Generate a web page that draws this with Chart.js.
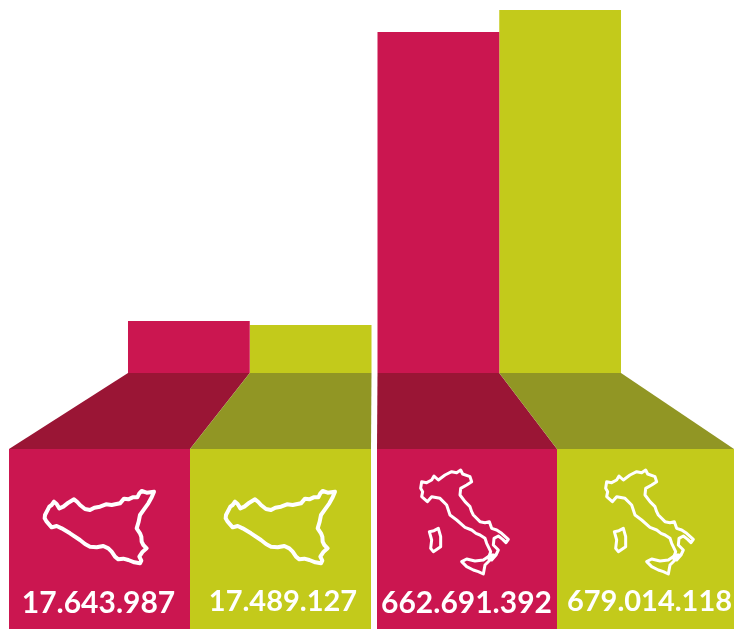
<!DOCTYPE html>
<html>
<head>
<meta charset="utf-8">
<style>
  html, body { margin: 0; padding: 0; background: #fff; }
  canvas { display: block; }
</style>
<script src="https://cdn.jsdelivr.net/npm/chart.js@4"></script>
</head>
<body>
<canvas id="myChart" width="734" height="629"></canvas>
<script>
// the bars in the picture are not to scale, so these are the drawn heights
var categories = ["Sicilia", "Italia"];
var pinkBars = [52, 341];
var limeBars = [48, 363];
var pinkTotals = ["17.643.987", "662.691.392"];
var limeTotals = ["17.489.127", "679.014.118"];

var PINK = "#CB1650";
var LIME = "#C3CA1B";
var DARK_PINK = "#9A1535";
var DARK_LIME = "#919624";

// outlines, in 3x pixels
var sicily = [[[462,155],[440,158],[425,153],[418,160],[412,172],[398,172],[385,178],[372,176],[360,190],[335,195],[318,193],[300,200],[283,203],[270,210],[255,207],[240,195],[232,186],[222,178],[205,188],[190,200],[178,205],[170,192],[162,185],[155,195],[148,200],[135,225],[134,235],[140,245],[155,262],[170,258],[185,265],[210,280],[240,300],[255,312],[270,320],[290,322],[310,318],[325,325],[335,335],[345,350],[355,358],[370,356],[385,360],[403,367],[420,370],[424,362],[418,350],[428,335],[440,325],[430,315],[425,305],[424,290],[420,280],[410,265],[416,245],[420,225],[432,208],[445,190],[455,172]]];
var italy = [
  [[155,95],[170,98],[185,90],[192,78],[205,90],[225,75],[245,65],[260,68],[272,60],[278,72],[300,80],[305,95],[290,105],[272,115],[270,135],[285,155],[300,170],[305,185],[310,195],[330,215],[345,218],[358,215],[365,235],[380,240],[395,250],[415,268],[408,278],[398,268],[385,258],[372,265],[370,285],[385,300],[378,315],[365,330],[355,325],[362,305],[350,280],[345,265],[330,255],[318,250],[305,240],[285,232],[260,210],[240,195],[230,165],[210,145],[185,140],[172,155],[155,140],[158,125],[152,115]],
  [[275,335],[290,327],[315,333],[340,330],[362,315],[372,315],[360,330],[345,345],[340,372],[325,365],[310,360],[290,350]],
  [[178,245],[192,242],[205,235],[212,260],[212,290],[190,305],[182,295],[185,270]]
];

// decorative block under each bar: left and right edge, x of the map, x of the total
var panels = [
  { left: 9, right: 190, top: 449, fill: PINK, shade: DARK_PINK, map: sicily, mapX: 0, mapY: 440, label: pinkTotals[0], textX: 98.5, textY: 613, size: 30, ds: 0, i: 0 },
  { left: 190, right: 371, top: 449, fill: LIME, shade: DARK_LIME, map: sicily, mapX: 181, mapY: 440, label: limeTotals[0], textX: 283, textY: 611, size: 29, ds: 1, i: 0 },
  { left: 377, right: 557, top: 449, fill: PINK, shade: DARK_PINK, map: italy, mapX: 370, mapY: 450, label: pinkTotals[1], textX: 466.5, textY: 613, size: 30, ds: 0, i: 1 },
  { left: 557, right: 734, top: 449, fill: LIME, shade: DARK_LIME, map: italy, mapX: 555, mapY: 450, label: limeTotals[1], textX: 649.5, textY: 611, size: 29, ds: 1, i: 1 }
];

var infographic = {
  id: "infographic",
  afterDatasetsDraw: function (chart) {
    var ctx = chart.ctx;
    var base = chart.scales.y.getPixelForValue(0);
    panels.forEach(function (p) {
      var bar = chart.getDatasetMeta(p.ds).data[p.i];
      var half = bar.width / 2;

      ctx.fillStyle = p.shade;
      ctx.beginPath();
      ctx.moveTo(bar.x - half, base);
      ctx.lineTo(bar.x + half, base);
      ctx.lineTo(p.right, p.top);
      ctx.lineTo(p.left, p.top);
      ctx.closePath();
      ctx.fill();

      ctx.fillStyle = p.fill;
      ctx.fillRect(p.left, p.top, p.right - p.left, 629 - p.top);

      ctx.save();
      ctx.translate(p.mapX, p.mapY);
      ctx.scale(1 / 3, 1 / 3);
      ctx.strokeStyle = "#fff";
      ctx.lineWidth = p.map === sicily ? 12 : 9;
      ctx.lineJoin = "round";
      p.map.forEach(function (shape) {
        ctx.beginPath();
        shape.forEach(function (pt, n) {
          if (n === 0) ctx.moveTo(pt[0], pt[1]);
          else ctx.lineTo(pt[0], pt[1]);
        });
        ctx.closePath();
        ctx.stroke();
      });
      ctx.restore();

      ctx.fillStyle = "#fff";
      ctx.font = "bold " + p.size + "px Lato";
      ctx.textAlign = "center";
      ctx.textBaseline = "alphabetic";
      ctx.fillText(p.label, p.textX, p.textY);
    });
  }
};

var ctx = document.getElementById("myChart").getContext("2d");
var myChart = new Chart(ctx, {
  type: "bar",
  data: {
    labels: categories,
    datasets: [
      { data: pinkBars, backgroundColor: PINK, barPercentage: 1, categoryPercentage: 0.976 },
      { data: limeBars, backgroundColor: LIME, barPercentage: 1, categoryPercentage: 0.976 },
    ],
  },
  options: {
    responsive: false,
    animation: false,
    layout: { padding: { left: 125, right: 110, top: 10, bottom: 256 } },
    plugins: { legend: { display: false }, tooltip: { enabled: false } },
    scales: {
      x: { display: false },
      y: { display: false, min: 0, max: 363 },
    },
  },
  plugins: [infographic],
});
</script>
</body>
</html>
